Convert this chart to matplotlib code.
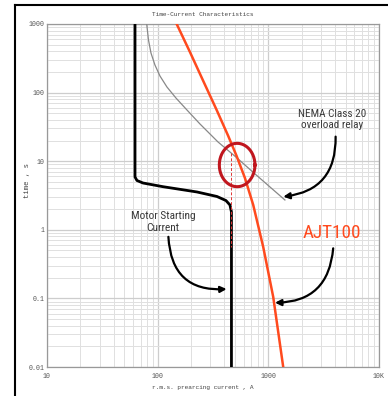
import numpy as np
import matplotlib; matplotlib.use("Agg"); import matplotlib.pyplot as plt
from matplotlib.ticker import LogLocator, FixedLocator, NullFormatter
from matplotlib.lines import Line2D
from matplotlib import font_manager

# curves: current (A) vs time (s)
motor_i = [62.4, 62.4, 65.0, 73.7, 111.7, 226.5, 343.3, 414.0, 450.0, 464.2, 464.2]
motor_t = [1000, 5.89, 5.23, 4.81, 4.25, 3.56, 3.06, 2.67, 2.30, 1.82, 0.01]

nema_i = [79.6, 82.6, 87.0, 94.5, 104.9, 121.3, 146.3, 183.9, 241.1, 350.5, 509.7, 741.3, 1412]
nema_t = [1000, 584.6, 377.9, 252.5, 174.6, 120.7, 83.4, 55.8, 34.9, 19.1, 11.5, 6.73, 2.72]

ajt_i = [148.5, 195.7, 258.2, 341.2, 434.2, 516.9, 614.5, 730.4, 899.3, 1107, 1363]
ajt_t = [1000, 390.8, 147.6, 55.8, 23.3, 11.9, 5.69, 2.30, 0.561, 0.105, 0.01]

# highlight ellipse around the crossing (centre, half-axes in decades)
ring_i, ring_t = 522.6, 8.80
ring_a, ring_b = 0.161, 0.316
dash_i = [459, 459]
dash_t = [13.0, 0.567]

xticks = [10, 100, 1000, 10000]
xlabels = ["10", "100", "1000", "10K"]
yticks = [0.01, 0.1, 1, 10, 100, 1000]
ylabels = ["0.01", "0.1", "1", "10", "100", "1000"]

MONO = "Liberation Mono"
ORANGE = "#ff4a1e"

# a narrow sans if there is one, otherwise Liberation Sans at a smaller size
have = {f.name for f in font_manager.fontManager.ttflist}
if "Roboto Condensed" in have:
    NARROW, k = "Roboto Condensed", 1.0
elif "Liberation Sans Narrow" in have:
    NARROW, k = "Liberation Sans Narrow", 1.0
else:
    NARROW, k = "Liberation Sans", 0.84

fig = plt.figure(figsize=(3.88, 3.96), dpi=100)
ax = fig.add_axes([47 / 388, 1 - 367 / 396, 332 / 388, 343 / 396])
ax.set_xscale("log"); ax.set_yscale("log")
ax.set_xlim(10, 10000); ax.set_ylim(0.01, 1000)

ax.xaxis.set_major_locator(FixedLocator(xticks)); ax.set_xticklabels(xlabels)
ax.yaxis.set_major_locator(FixedLocator(yticks)); ax.set_yticklabels(ylabels)
for a in (ax.xaxis, ax.yaxis):
    a.set_minor_locator(LogLocator(base=10, subs=np.arange(2, 10)))
    a.set_minor_formatter(NullFormatter())
ax.grid(which="major", color="#cdcdcd", lw=0.9)
ax.grid(which="minor", color="#e0e0e0", lw=0.7)
ax.tick_params(which="both", length=0)
ax.tick_params(axis="y", pad=1.5, labelsize=4.8, labelcolor="#555")
ax.tick_params(axis="x", pad=4.5, labelsize=4.8, labelcolor="#555")
for lab in ax.get_xticklabels() + ax.get_yticklabels():
    lab.set_family(MONO)
for s in ax.spines.values():
    s.set_color("#999"); s.set_lw(0.9)

ax.plot(nema_i, nema_t, color="#888", lw=0.9, zorder=3)
ax.plot(motor_i, motor_t, color="black", lw=2.0, zorder=4)
ax.plot(ajt_i, ajt_t, color=ORANGE, lw=1.8, zorder=5)
ax.plot(dash_i, dash_t, color="#e03434", lw=0.7, ls=(0, (3, 2)), zorder=4)

th = np.linspace(0, 2 * np.pi, 200)
ax.plot(10 ** (np.log10(ring_i) + ring_a * np.cos(th)),
        10 ** (np.log10(ring_t) + ring_b * np.sin(th)),
        color="#c0161e", lw=2.2, zorder=6)

# labels + curved pointer arrows
ax.text(3793, 40.3, "NEMA Class 20\noverload relay", ha="center", va="center",
        fontsize=8.1 * k, family=NARROW, color="#3a3a3a", linespacing=1.2)
ax.text(112, 1.30, "Motor Starting\nCurrent", ha="center", va="center",
        fontsize=8.2 * k, family=NARROW, color="#3a3a3a", linespacing=1.2)
ax.text(3733, 0.889, "AJT100", ha="center", va="center",
        fontsize=13.8 * k, family=NARROW, color=ORANGE)

arrow = dict(arrowstyle="-|>", color="black", lw=1.6, mutation_scale=9, shrinkA=0, shrinkB=0)
ax.annotate("", xy=(1365, 3.04), xytext=(4055, 22.8),
            arrowprops={**arrow, "connectionstyle": "arc3,rad=-0.45"})
ax.annotate("", xy=(1148, 0.0865), xytext=(3855, 0.537),
            arrowprops={**arrow, "connectionstyle": "arc3,rad=-0.45"})
ax.annotate("", xy=(420, 0.137), xytext=(125, 0.79),
            arrowprops={**arrow, "connectionstyle": "arc3,rad=0.5"})

fig.text(203 / 388, 1 - 15 / 396, "Time-Current Characteristics", ha="center", va="center",
         fontsize=4.4, family=MONO, color="#444")
fig.text(203 / 388, 1 - 387 / 396, "r.m.s. prearcing current , A", ha="center", va="center",
         fontsize=4.4, family=MONO, color="#444")
fig.text(27 / 388, 1 - 180 / 396, "time , s", ha="center", va="center", rotation=90,
         fontsize=5.2, family=MONO, color="#444")

# outer drawing frame (left and top edges visible)
fig.add_artist(Line2D([15 / 388, 15 / 388], [0, 1 - 5 / 396], color="black", lw=1.5))
fig.add_artist(Line2D([15 / 388, 1], [1 - 5 / 396, 1 - 5 / 396], color="black", lw=1.5))

fig.savefig("out.png", dpi=100)
